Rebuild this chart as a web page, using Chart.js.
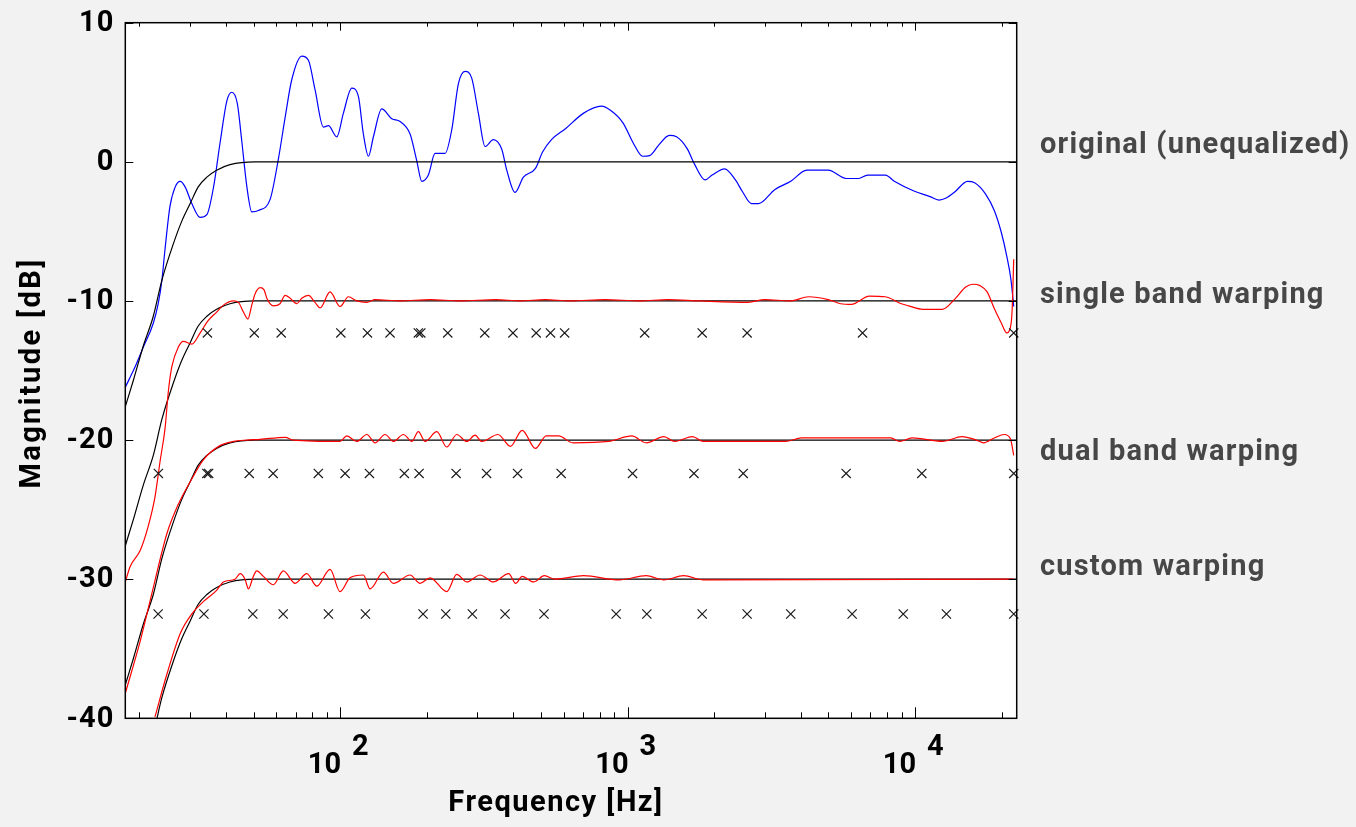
<!DOCTYPE html>
<html>
<head>
<meta charset="utf-8">
<script src="https://cdn.jsdelivr.net/npm/chart.js@4"></script>
<style>
  html, body { margin: 0; padding: 0; background: #f2f2f2; }
</style>
</head>
<body>
<canvas id="eqChart" width="1356" height="827"></canvas>
<script>
// original (unequalized) response
const freqOrig = [17.9,19.4,20.7,22.4,23.3,24.0,24.6,25.6,26.7,27.8,28.9,30.5,32.6,34.4,36.3,38.2,40.4,42.0,43.9,45.5,47.4,49.3,52.0,57.1,61.0,64.4,67.9,73.6,77.6,81.8,87.5,91.1,97.4,102.7,109.8,115.8,120.5,125.5,130.6,139.6,151.3,161.7,175.2,184.9,192.4,202.8,214.0,231.8,244.6,257.9,272.2,287.2,302.7,319.4,341.4,365.1,380.0,406.1,434.1,478.3,506.2,543.7,609.5,703.6,811.5,871.9,963.8,1050,1128,1194,1283,1398,1480,1612,1708,1861,1970,2176,2373,2512,2698,2858,3249,3696,4204,4991,5759,6365,6836,7889,8472,9913,11276,12110,12832,13776,15227,16120,17576,18870,19976,20859,21573,22050];
const magOrig = [-16.2,-14.7,-13.3,-11.6,-10.2,-8.5,-6.3,-3.2,-1.8,-1.4,-1.8,-3.0,-4.0,-3.8,-1.8,1.3,4.4,5.0,4.2,1.5,-1.8,-3.6,-3.5,-2.7,0.2,3.2,5.9,7.6,7.3,5.2,2.5,2.6,1.8,3.5,5.3,4.7,2.0,0.4,1.8,3.8,3.1,2.9,2.0,0.05,-1.4,-0.95,0.6,0.6,2.3,5.6,6.5,6.0,3.5,1.1,1.6,0.9,-0.6,-2.2,-1.1,-0.47,0.7,1.6,2.4,3.5,4.0,3.7,2.8,1.3,0.4,0.45,1.2,1.9,1.8,0.95,-0.15,-1.3,-0.95,-0.5,-1.3,-2.15,-3.0,-3.0,-2.0,-1.4,-0.6,-0.6,-1.2,-1.2,-0.95,-0.95,-1.4,-2.1,-2.5,-2.75,-2.6,-2.15,-1.4,-1.5,-2.3,-3.5,-5.1,-6.8,-8.5,-10.4];

// target (black) curve, drawn at each offset
const freqTarget = [17.9,19.1,20.7,22.4,24.0,26.3,28.1,30.1,32.1,34.4,37.2,41.4,50.6,22580];
const magTarget = [-17.6,-15.7,-13.2,-11.1,-8.5,-5.9,-4.3,-3.0,-1.8,-1.1,-0.6,-0.2,0,0];
const targetOffsets = [0, -10, -20, -30];

// equalized results (red)
const freqSingle = [17.9,18.6,20.2,21.5,22.7,23.7,24.6,25.3,26.0,27.4,28.5,30.5,32.6,34.8,37.2,39.3,42.6,44.3,46.1,47.8,49.3,50.6,52.7,54.4,55.6,58.6,61.8,64.4,67.0,70.7,73.6,77.6,81.8,85.2,92.3,100,106.9,114.3,123.9,132.4,161.7,205.6,261.5,348.9,422.7,516.5,631,835,1105,1383,1787,2625,3008,3674,4265,4983,5516,6008,6935,7889,8969,9500,10654,12464,13776,15007,15901,16836,17817,18870,19976,20859,21470,21763,22050];
const magSingle = [-30.2,-29.1,-27.9,-26.2,-24.1,-21.4,-19.2,-16.4,-14.7,-13.3,-12.9,-13.1,-12.3,-11.4,-10.8,-10.3,-10.0,-10.1,-10.8,-11.3,-10.3,-9.5,-9.05,-9.2,-9.8,-10.35,-10.2,-9.6,-9.8,-10.2,-9.8,-9.6,-10.1,-10.5,-9.35,-10.4,-9.7,-10.0,-10.1,-9.9,-10.0,-9.9,-10.0,-9.9,-10.0,-9.9,-10.0,-9.9,-10.0,-9.9,-10.0,-10.1,-9.9,-10.0,-9.7,-9.9,-10.2,-10.25,-9.65,-9.7,-10.2,-10.35,-10.6,-10.6,-9.85,-9.0,-8.8,-8.9,-9.35,-10.55,-11.6,-12.3,-11.9,-10.7,-7.0];

const freqDual = [17.9,20.2,22.4,25.0,27.4,30.1,33.5,38.2,42.6,47.4,52.7,64.4,68.8,100,105.5,114.3,123.9,132.4,143.4,153.2,166.1,177.6,187.2,197.6,217.0,235.0,254.6,275.9,294.8,311.1,354.2,391.5,429.9,478.3,521.2,575.8,645.8,859.7,1035,1161,1338,1458,1683,1834,2240,2698,3542,4026,8233,8840,9764,12464,14572,16352,17322,18870,20448,21470,22050];
const magDual = [-38.2,-34.4,-30.6,-26.7,-24.6,-23.0,-21.4,-20.4,-20.1,-20.0,-19.95,-19.8,-20.0,-20.1,-19.7,-20.1,-19.6,-20.2,-19.6,-20.1,-19.6,-20.1,-19.4,-20.1,-19.4,-20.5,-19.6,-20.1,-19.65,-20.1,-19.6,-20.45,-19.3,-20.6,-19.7,-19.7,-20.2,-20.1,-19.7,-20.2,-19.75,-20.1,-19.75,-20.1,-20.1,-20.1,-20.1,-19.85,-19.85,-20.1,-19.85,-20.1,-19.75,-20.0,-20.2,-19.85,-19.6,-19.9,-21.1];

const freqCustom = [22.7,25.0,27.8,30.5,33.5,37.2,39.3,43.1,44.9,46.7,48.0,49.9,51.3,54.1,58.6,63.5,69.8,76.6,83.0,92.3,100,108.3,120.5,127.2,141.5,153.2,175.2,189.8,205.6,235.0,254.6,275.9,306.9,341.4,385.9,408.4,429.9,471.4,513.5,559.6,703.6,936.5,1161,1338,1567,1834,22050];
const magCustom = [-39.9,-36.8,-33.9,-32.5,-31.6,-30.8,-30.2,-30.0,-29.6,-30.0,-30.7,-29.8,-29.4,-29.8,-30.4,-29.4,-30.3,-29.6,-30.5,-29.3,-30.9,-29.9,-29.7,-30.7,-29.5,-30.3,-29.7,-30.3,-29.9,-30.9,-29.65,-30.2,-29.7,-30.2,-29.6,-30.3,-29.8,-30.2,-29.75,-30.0,-29.75,-30.05,-29.75,-30.05,-29.75,-30.05,-30.0];

// warping frequencies (x markers) and the level each row sits at
const crossSingle = [34.55,50.3,62.4,100.6,124.5,149.2,187.2,190.9,236.9,318.6,399.4,481.0,539.3,604.1,1147,1818,2606,6569,22050];
const crossDual = [23.33,34.4,34.9,48.3,58.5,84.0,104.1,126.5,167.3,188.3,253.3,323.3,414.3,587.5,1041,1702,2526,5759,10561,22050];
const crossCustom = [23.28,33.6,49.7,63.4,91.1,122.5,194.4,233.2,288.5,374.9,512.1,912.7,1167,1818,2606,3696,6043,9100,12860,22050];
const crossLevels = [-12.3, -22.4, -32.5];

// axis ticks and labels
const yTicks = [-40, -30, -20, -10, 0, 10];
const xMajor = [100, 1000, 10000];
const xMajorExp = ['2', '3', '4'];
const xMinor = [20,30,40,50,60,70,80,90,200,300,400,500,600,700,800,900,2000,3000,4000,5000,6000,7000,8000,9000,20000];
const seriesLabels = ['original (unequalized)', 'single band warping', 'dual band warping', 'custom warping'];

const FONT = 'Roboto, "DejaVu Sans", sans-serif';

function pts(xs, ys, off) {
  return xs.map((x, i) => ({ x: x, y: ys[i] + (off || 0) }));
}
function crossPts(xs, level) {
  return xs.map(x => ({ x: x, y: level }));
}

const lineBase = { showLine: true, pointRadius: 0, borderWidth: 1.2, cubicInterpolationMode: 'monotone', fill: false };

const datasets = [
  Object.assign({ label: 'original', data: pts(freqOrig, magOrig), borderColor: '#0000ff', order: 5 }, lineBase)
];
targetOffsets.forEach(off => {
  datasets.push(Object.assign({ label: 'target ' + off, data: pts(freqTarget, magTarget, off), borderColor: '#000000', order: 4 }, lineBase));
});
datasets.push(Object.assign({ label: 'single', data: pts(freqSingle, magSingle), borderColor: '#ff0000', order: 3 }, lineBase));
datasets.push(Object.assign({ label: 'dual', data: pts(freqDual, magDual), borderColor: '#ff0000', order: 3 }, lineBase));
datasets.push(Object.assign({ label: 'custom', data: pts(freqCustom, magCustom), borderColor: '#ff0000', order: 3 }, lineBase));
[crossSingle, crossDual, crossCustom].forEach((xs, i) => {
  datasets.push({
    label: 'warp ' + i,
    data: crossPts(xs, crossLevels[i]),
    showLine: false,
    pointStyle: 'crossRot',
    pointRadius: 6.5,
    pointBorderWidth: 1.2,
    pointBorderColor: '#1a1a1a',
    borderColor: '#1a1a1a',
    clip: false,
    order: 1
  });
});

function spacedText(ctx, text, x, y, spacing) {
  ctx.letterSpacing = spacing + 'px';
  ctx.fillText(text, x, y);
  ctx.letterSpacing = '0px';
}

const decor = {
  id: 'decor',
  beforeDraw(chart) {
    const { ctx, chartArea: a } = chart;
    ctx.save();
    ctx.fillStyle = '#f2f2f2';
    ctx.fillRect(0, 0, chart.width, chart.height);
    ctx.fillStyle = '#ffffff';
    ctx.fillRect(a.left, a.top, a.right - a.left, a.bottom - a.top);
    ctx.restore();
  },
  afterDraw(chart) {
    const { ctx, chartArea: a, scales: { x, y } } = chart;
    ctx.save();
    ctx.strokeStyle = '#000';
    ctx.lineWidth = 1.5;
    ctx.strokeRect(a.left, a.top, a.right - a.left, a.bottom - a.top);

    // tick marks pointing inward
    ctx.lineWidth = 1;
    ctx.beginPath();
    xMinor.forEach(v => {
      const px = Math.round(x.getPixelForValue(v)) + 0.5;
      ctx.moveTo(px, a.bottom); ctx.lineTo(px, a.bottom - 6);
      ctx.moveTo(px, a.top); ctx.lineTo(px, a.top + 4);
    });
    xMajor.forEach(v => {
      const px = Math.round(x.getPixelForValue(v)) + 0.5;
      ctx.moveTo(px, a.bottom); ctx.lineTo(px, a.bottom - 11);
      ctx.moveTo(px, a.top); ctx.lineTo(px, a.top + 8);
    });
    yTicks.forEach(v => {
      const py = Math.round(y.getPixelForValue(v)) + 0.5;
      ctx.moveTo(a.left, py); ctx.lineTo(a.left + 8, py);
      ctx.moveTo(a.right, py); ctx.lineTo(a.right - 8, py);
    });
    ctx.stroke();

    // y tick labels
    ctx.fillStyle = '#000';
    ctx.font = 'bold 29px ' + FONT;
    ctx.textAlign = 'right';
    ctx.textBaseline = 'middle';
    yTicks.forEach(v => {
      spacedText(ctx, String(v), a.left - 11, y.getPixelForValue(v) + 1, 1);
    });

    // x tick labels: 10 with a raised exponent
    ctx.textBaseline = 'alphabetic';
    xMajor.forEach((v, i) => {
      const px = x.getPixelForValue(v);
      ctx.textAlign = 'right';
      ctx.fillText('10', px + 1, 773);
      ctx.textAlign = 'left';
      ctx.fillText(xMajorExp[i], px + 12, 755);
    });

    // axis titles
    ctx.font = 'bold 29px ' + FONT;
    ctx.textAlign = 'center';
    ctx.textBaseline = 'middle';
    spacedText(ctx, 'Frequency [Hz]', 556, 804, 1.5);
    ctx.save();
    ctx.translate(33, 373);
    ctx.rotate(-Math.PI / 2);
    spacedText(ctx, 'Magnitude [dB]', 0, 0, 2.4);
    ctx.restore();

    // series labels on the right
    ctx.fillStyle = '#474747';
    ctx.font = 'bold 29px ' + FONT;
    ctx.textAlign = 'left';
    ctx.textBaseline = 'alphabetic';
    const baselines = [153, 303, 460, 575];
    seriesLabels.forEach((t, i) => spacedText(ctx, t, 1040, baselines[i], 1.2));
    ctx.restore();
  }
};

new Chart(document.getElementById('eqChart').getContext('2d'), {
  type: 'scatter',
  data: { datasets: datasets },
  options: {
    responsive: false,
    animation: false,
    layout: { padding: { top: 22.7, right: 339.3, left: 0, bottom: 0 } },
    plugins: { legend: { display: false }, tooltip: { enabled: false } },
    scales: {
      x: {
        type: 'logarithmic',
        min: 17.9,
        max: 22580,
        ticks: { display: false },
        grid: { display: false, drawTicks: false },
        border: { display: false },
        afterFit(s) { s.height = 827 - 718.3; s.paddingLeft = 0; s.paddingRight = 0; }
      },
      y: {
        min: -40,
        max: 10,
        ticks: { display: false, stepSize: 10 },
        grid: { display: false, drawTicks: false },
        border: { display: false },
        afterFit(s) { s.width = 125.3; s.paddingTop = 0; s.paddingBottom = 0; }
      }
    }
  },
  plugins: [decor]
});
</script>
</body>
</html>
